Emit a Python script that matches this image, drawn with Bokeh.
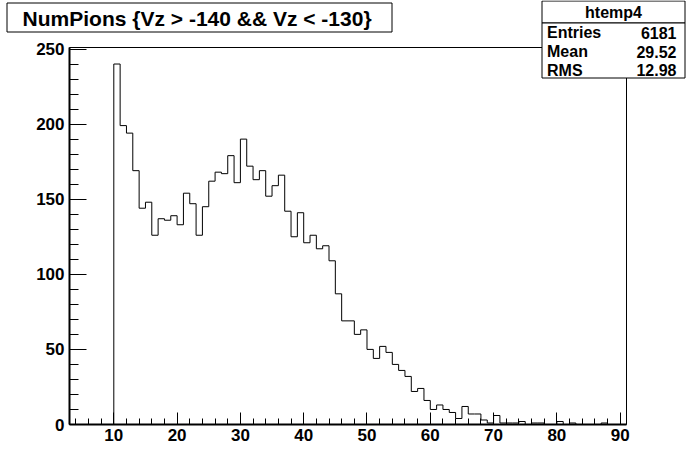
from bokeh.plotting import figure
from bokeh.models import Range1d, SingleIntervalTicker
from bokeh.layouts import column
from bokeh.core.properties import value
from bokeh.embed import file_html
from bokeh.resources import INLINE

# Histogram: NumPions, 1-unit bins starting at 10
bin_low_edges = list(range(10, 91))
counts = [240, 199, 194, 169, 144, 148, 126, 137, 136, 139,   # 10-19
          133, 154, 147, 126, 145, 162, 168, 167, 179, 161,   # 20-29
          190, 172, 163, 169, 152, 159, 166, 142, 125, 141,   # 30-39
          121, 126, 117, 119, 109, 87, 69, 69, 60, 63,        # 40-49
          50, 44, 52, 48, 40, 36, 32, 22, 24, 16,             # 50-59
          10, 13, 10, 8, 4, 12, 7, 7, 3, 1,                   # 60-69
          6, 1, 1, 1, 2, 0, 1, 1, 0, 0,                       # 70-79
          2, 0, 1, 0, 0, 0, 0, 1, 0, 0,                       # 80-89
          0]                                                  # 90

title_text = "NumPions  {Vz > -140 && Vz < -130}"
stats_name = "htemp4"
stats_labels = ["Entries", "Mean", "RMS"]
stats_values = ["6181", "29.52", "12.98"]

x_min, x_max = 3, 91
y_min, y_max = 0, 251

W, H = 688, 464
FONT = "Liberation Sans"

p = figure(width=W, height=H, output_backend="svg", toolbar_location=None,
           x_range=Range1d(x_min, x_max), y_range=Range1d(y_min, y_max),
           min_border_left=69, min_border_right=62, min_border_top=47, min_border_bottom=40)
p.background_fill_color = "white"
p.border_fill_color = "white"
p.outline_line_color = "black"
p.outline_line_width = 1
p.xgrid.visible = False
p.ygrid.visible = False

# step outline of histogram
xs = [bin_low_edges[0]] + bin_low_edges + [bin_low_edges[-1] + 1]
ys = [0] + counts + [0]
p.step(x=xs, y=ys, mode="after", line_color="black", line_width=1)

# axes styling (ROOT-like inward ticks)
xa = p.xaxis[0]
xa.ticker = SingleIntervalTicker(interval=10, num_minor_ticks=5)
xa.major_tick_in = 12
xa.major_tick_out = 0
xa.minor_tick_in = 6
xa.minor_tick_out = 0
xa.axis_line_width = 2
xa.major_label_standoff = 4
xa.major_label_text_font = FONT
xa.major_label_text_font_style = "bold"
xa.major_label_text_font_size = "17px"
xa.major_label_text_color = "black"

ya = p.yaxis[0]
ya.ticker = SingleIntervalTicker(interval=50, num_minor_ticks=5)
ya.major_tick_in = 17
ya.major_tick_out = 0
ya.minor_tick_in = 9
ya.minor_tick_out = 0
ya.axis_line_width = 2
ya.major_label_standoff = 5
ya.major_label_text_font = FONT
ya.major_label_text_font_style = "bold"
ya.major_label_text_font_size = "17px"
ya.major_label_text_color = "black"

# transparent overlay canvas (pixel coordinates, y downwards) for title and stats boxes
ov = figure(width=W, height=H, output_backend="svg", toolbar_location=None,
            x_range=Range1d(0, W), y_range=Range1d(H, 0),
            x_axis_type=None, y_axis_type=None,
            min_border_left=0, min_border_right=0, min_border_top=0, min_border_bottom=0)
ov.background_fill_alpha = 0
ov.border_fill_alpha = 0
ov.outline_line_color = None
ov.xgrid.visible = False
ov.ygrid.visible = False

# title box
ov.quad(left=[6.5], right=[391.5], top=[2.5], bottom=[31.5],
        fill_color="white", line_color="black", line_width=1)
ov.text(x=[199.5], y=[17.5], text=[title_text], text_font=value(FONT),
        text_font_style="bold", text_font_size="21px", text_align="center",
        text_baseline="middle", text_color="black")

# stats box
ov.quad(left=[541.5, 541.5], right=[684.5, 684.5], top=[0.5, 22.5], bottom=[22.5, 77.5],
        fill_color="white", line_color="black", line_width=1)
ov.text(x=[613], y=[12], text=[stats_name], text_font=value(FONT),
        text_font_style="bold", text_font_size="16px", text_align="center",
        text_baseline="middle", text_color="black")
row_y = [32, 51, 69.5]
ov.text(x=[546.5] * 3, y=row_y, text=stats_labels, text_font=value(FONT),
        text_font_style="bold", text_font_size="16px", text_align="left",
        text_baseline="middle", text_color="black")
ov.text(x=[676] * 3, y=row_y, text=stats_values, text_font=value(FONT),
        text_font_style="bold", text_font_size="16px", text_align="right",
        text_baseline="middle", text_color="black")

inner = column(ov)
inner.styles = {"position": "absolute", "left": "0px", "top": "0px"}
layout = column(p, inner)

open("out.html", "w").write(file_html(layout, INLINE))
